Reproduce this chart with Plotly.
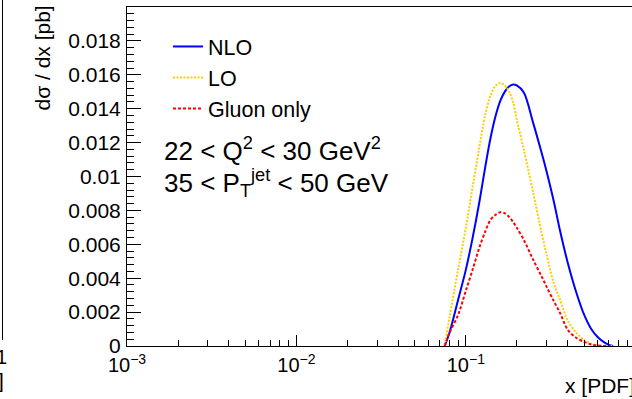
import plotly.graph_objects as go

# x values (PDF momentum fraction) at which the cross sections are tabulated
x_vals = [0.075, 0.08, 0.09, 0.10, 0.11, 0.12, 0.13, 0.14, 0.15, 0.16, 0.17, 0.18,
          0.19, 0.20, 0.22, 0.25, 0.28, 0.30, 0.33, 0.36, 0.40, 0.45, 0.50, 0.55,
          0.60, 0.65, 0.70, 0.74]

# d(sigma)/dx [pb]
nlo = [0.0, 0.00077, 0.00272, 0.00449, 0.00644, 0.00845, 0.01052, 0.01229, 0.01359,
       0.01448, 0.01501, 0.01531, 0.01543, 0.01537, 0.01495, 0.01315, 0.01141, 0.01028,
       0.00857, 0.00680, 0.00490, 0.00313, 0.00183, 0.00100, 0.00053, 0.00024, 0.00006, 0.0]
lo = [0.0, 0.00165, 0.00450, 0.00697, 0.00946, 0.01170, 0.01360, 0.01478, 0.01537,
      0.01551, 0.01537, 0.01501, 0.01440, 0.01336, 0.01158, 0.00904, 0.00668, 0.00538,
      0.00372, 0.00272, 0.00148, 0.00077, 0.00035, 0.00012, 0.00003, 0.0, 0.0, 0.0]
gluon = [0.0, 0.00077, 0.00183, 0.00325, 0.00455, 0.00579, 0.00674, 0.00745, 0.00774,
         0.00789, 0.00783, 0.00762, 0.00733, 0.00697, 0.00626, 0.00508, 0.00411, 0.00349,
         0.00266, 0.00195, 0.00095, 0.00047, 0.00024, 0.00009, 0.00003, 0.0, 0.0, 0.0]

x_major = [1e-3, 1e-2, 1e-1]
x_major_text = ["10<sup>\u22123</sup>", "10<sup>\u22122</sup>", "10<sup>\u22121</sup>"]
x_minor = [m * d for d in (1e-3, 1e-2, 1e-1) for m in range(2, 10)]
y_major = [0, 0.002, 0.004, 0.006, 0.008, 0.01, 0.012, 0.014, 0.016, 0.018]
y_major_text = ["0", "0.002", "0.004", "0.006", "0.008", "0.01", "0.012", "0.014", "0.016", "0.018"]

FONT = "Liberation Sans, Arial, Helvetica, sans-serif"
W, H = 632, 399
L, R, T, B = 127, 0, 7, 53

fig = go.Figure()
fig.add_trace(go.Scatter(x=x_vals, y=nlo, mode="lines", name="NLO",
                         line=dict(color="#0000ff", width=2, shape="spline", smoothing=0.9)))
fig.add_trace(go.Scatter(x=x_vals, y=lo, mode="lines", name="LO",
                         line=dict(color="#ffcc00", width=2, dash="2px,1.5px",
                                   shape="spline", smoothing=0.9)))
fig.add_trace(go.Scatter(x=x_vals, y=gluon, mode="lines", name="Gluon only",
                         line=dict(color="#ff0000", width=2, dash="3px,2px",
                                   shape="spline", smoothing=0.9)))

pw = W - L - R
ph = H - T - B


def px(xp):
    return (xp - L) / pw


def py(yp):
    return (H - B - yp) / ph


fig.update_layout(
    width=W, height=H,
    margin=dict(l=L, r=R, t=T, b=B, pad=0),
    paper_bgcolor="white", plot_bgcolor="white",
    font=dict(family=FONT, size=20, color="black"),
    showlegend=True,
    legend=dict(x=px(168), y=py(26), xanchor="left", yanchor="top",
                font=dict(size=21.5), bgcolor="rgba(0,0,0,0)", borderwidth=0,
                tracegroupgap=0),
    xaxis=dict(type="log", range=[-3, -0.019], showgrid=False, zeroline=False,
               showline=True, linecolor="black", linewidth=1, mirror=True,
               ticks="inside", ticklen=11, tickwidth=1, tickcolor="black",
               tickmode="array", tickvals=x_major, ticktext=x_major_text,
               ticklabelstandoff=1, tickfont=dict(size=20),
               minor=dict(tickmode="array", tickvals=x_minor, ticks="inside",
                          ticklen=6, tickcolor="black", showgrid=False)),
    yaxis=dict(range=[0, 0.02], showgrid=False, zeroline=False,
               showline=True, linecolor="black", linewidth=1, mirror=False,
               ticks="inside", ticklen=14, tickwidth=1, tickcolor="black",
               tickmode="array", tickvals=y_major, ticktext=y_major_text,
               ticklabelstandoff=1, tickfont=dict(size=21),
               minor=dict(dtick=0.0004, ticks="inside", ticklen=7,
                          tickcolor="black", showgrid=False)),
)

annotations = [
    dict(text="d\u03c3 / dx [pb]", textangle=-90, x=px(42), y=py(4),
         xanchor="center", yanchor="top", font=dict(size=21)),
    dict(text="x [PDF]", x=px(637), y=py(386), xanchor="right", yanchor="middle",
         font=dict(size=21)),
    dict(text="22 &lt; Q<sup>2</sup> &lt; 30 GeV<sup>2</sup>", x=px(162), y=py(150),
         xanchor="left", yanchor="middle", font=dict(size=26)),
    dict(text="35 &lt; P<sub>T</sub><sup>jet</sup> &lt; 50 GeV", x=px(162), y=py(183),
         xanchor="left", yanchor="middle", font=dict(size=26)),
    # edge of the neighbouring pad
    dict(text="1", x=px(9), y=py(357), xanchor="right", yanchor="middle",
         font=dict(size=20)),
    dict(text="]", x=px(6), y=py(380), xanchor="right", yanchor="middle",
         font=dict(size=21)),
]
for a in annotations:
    a.update(xref="paper", yref="paper", showarrow=False)
fig.update_layout(annotations=annotations)

fig.add_shape(type="line", xref="paper", yref="paper",
              x0=px(2.5), x1=px(2.5), y0=py(0), y1=py(340),
              line=dict(color="black", width=1))

fig.write_html("out.html")
